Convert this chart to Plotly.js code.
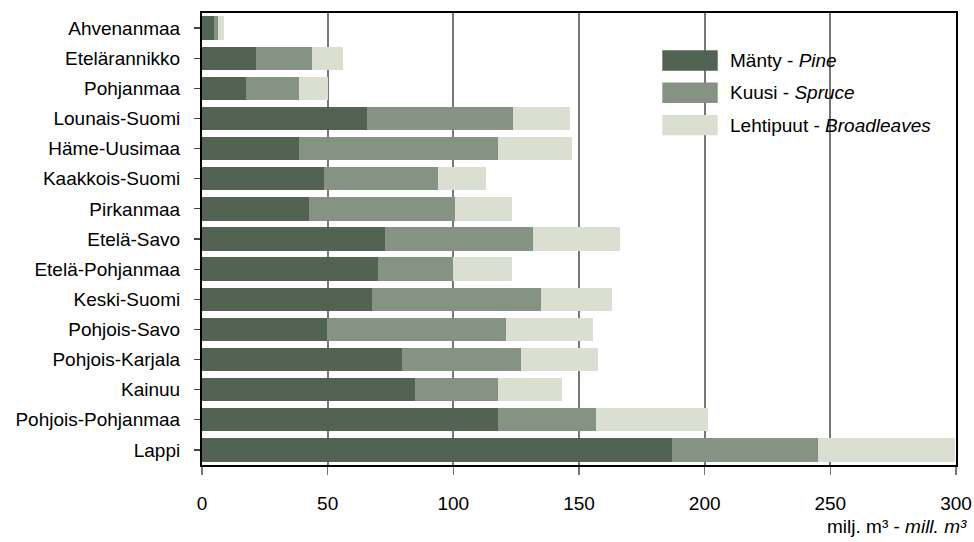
<!DOCTYPE html>
<html>
<head>
<meta charset="utf-8">
<script src="https://cdn.plot.ly/plotly-3.0.1.min.js"></script>
<style>html,body{margin:0;padding:0;background:#fff;}#chart{width:974px;height:542px;}</style>
</head>
<body>
<div id="chart"></div>
<script>
const regions = ["Ahvenanmaa","Etelärannikko","Pohjanmaa","Lounais-Suomi","Häme-Uusimaa","Kaakkois-Suomi","Pirkanmaa","Etelä-Savo","Etelä-Pohjanmaa","Keski-Suomi","Pohjois-Savo","Pohjois-Karjala","Kainuu","Pohjois-Pohjanmaa","Lappi"];
const pine   = [4.9, 21.6, 17.6, 65.8, 38.7, 48.6, 42.7, 72.9, 69.9, 67.7, 49.8, 79.7, 84.8, 117.9, 187.1];
const spruce = [1.6, 22.3, 21.1, 58.1, 79.2, 45.4, 57.9, 58.9, 30.1, 67.3, 71.1, 47.3, 33.1, 38.9, 58.0];
const broad  = [2.4, 12.2, 11.3, 22.5, 29.4, 19.1, 22.7, 34.4, 23.3, 28.3, 34.5, 30.4, 25.3, 44.5, 54.5];
const seriesNames = ["Mänty - <i>Pine</i>", "Kuusi - <i>Spruce</i>", "Lehtipuut - <i>Broadleaves</i>"];
const seriesColors = ["#536353", "#859284", "#dbdfd1"];
const xTicks = [0, 50, 100, 150, 200, 250, 300];
const xTitle = "milj. m³ - <i>mill. m³</i>";

const FONT = "Liberation Sans, Arial, sans-serif";
const values = [pine, spruce, broad];
const traces = values.map((v, i) => ({
  type: "bar", orientation: "h", y: regions, x: v, name: seriesNames[i],
  marker: {color: seriesColors[i], line: {width: 0}}, showlegend: false, hoverinfo: "x+y"
}));

// manual legend (swatches + labels)
const shapes = [{type: "rect", xref: "paper", yref: "paper", x0: 0.56, x1: 0.995, y0: 0.64, y1: 0.936,
  fillcolor: "#ffffff", line: {width: 0}, layer: "between"}];
const annotations = [];
const lx0 = 0.6105, lx1 = 0.684, ly0 = 0.895, dy = 0.0715, sh = 0.0225;
seriesNames.forEach((n, i) => {
  const yc = ly0 - i * dy;
  shapes.push({type: "rect", xref: "paper", yref: "paper", x0: lx0, x1: lx1, y0: yc - sh, y1: yc + sh,
    fillcolor: seriesColors[i], line: {width: 0}, layer: "above"});
  annotations.push({xref: "paper", yref: "paper", x: 0.697, y: yc, xanchor: "left", yanchor: "middle",
    text: n, showarrow: false, font: {family: FONT, size: 19, color: "#000"}});
});
annotations.push({xref: "paper", yref: "paper", x: 1, y: -0.137, xanchor: "right", yanchor: "middle",
  xshift: 13, text: xTitle, showarrow: false, font: {family: FONT, size: 19, color: "#000"}});

const layout = {
  width: 974, height: 542, barmode: "stack", bargap: 0.225,
  margin: {l: 202, r: 18, t: 13, b: 77, pad: 0},
  paper_bgcolor: "#fff", plot_bgcolor: "#fff",
  font: {family: FONT, size: 19, color: "#000"},
  xaxis: {range: [0, 300], tickvals: xTicks, ticktext: xTicks.map(String), showgrid: true, gridcolor: "#777", gridwidth: 2,
    zeroline: false, ticks: "outside", ticklen: 8, tickwidth: 1.5, tickcolor: "#777",
    showline: true, mirror: true, linecolor: "#000", linewidth: 2, ticklabelstandoff: 12,
    tickfont: {family: FONT, size: 19, color: "#000"}, fixedrange: true},
  yaxis: {type: "category", categoryorder: "array", categoryarray: regions, autorange: "reversed",
    showgrid: false, ticks: "outside", ticklen: 6, tickwidth: 1.2, tickcolor: "#444",
    showline: true, mirror: true, linecolor: "#000", linewidth: 2, ticklabelstandoff: 10,
    tickfont: {family: FONT, size: 19, color: "#000"}, fixedrange: true},
  shapes: shapes, annotations: annotations, showlegend: false
};
Plotly.newPlot("chart", traces, layout, {displayModeBar: false, staticPlot: true});
</script>
</body>
</html>
